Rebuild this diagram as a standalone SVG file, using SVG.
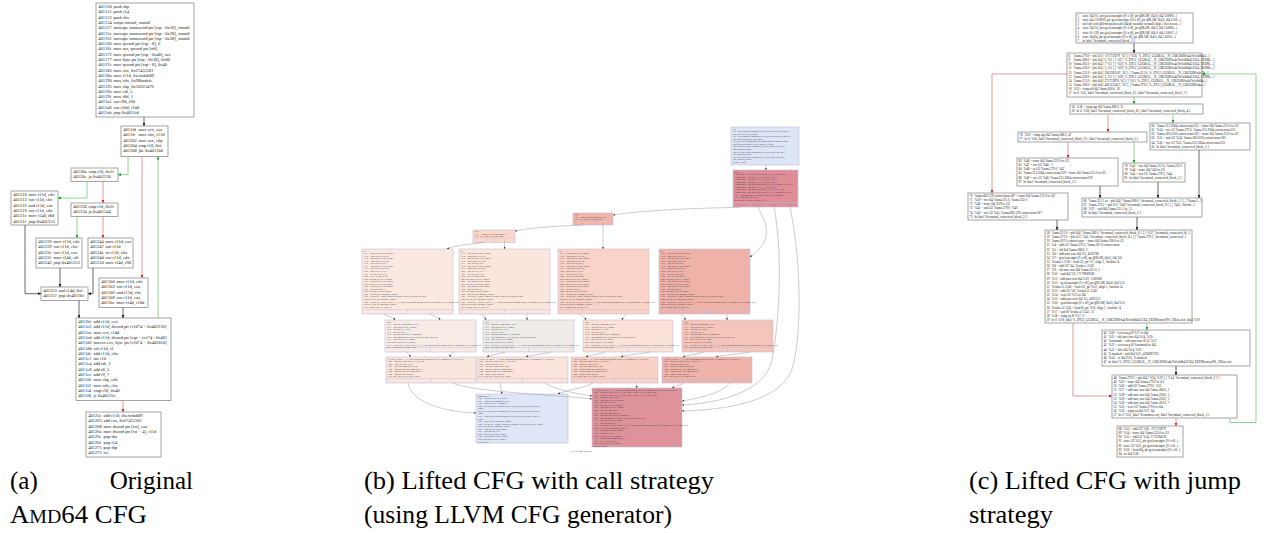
<svg xmlns="http://www.w3.org/2000/svg" width="1266" height="533" viewBox="0 0 1266 533">
<style>
.bx{fill:#fff;stroke:#8e8e8e;stroke-width:0.8}
.ta{font-family:"Liberation Serif",serif;font-size:4.5px;fill:#222}
.tc{font-family:"Liberation Serif",serif;font-size:3.2px;fill:#222}
.tb{font-family:"Liberation Serif",serif;font-size:2.2px;fill:#333}
.pb{stroke:#c3bdd8;stroke-width:0.6}
.pl{stroke:#c3bdd8;stroke-width:0.5;fill:none}
.cap{font-family:"Liberation Serif",serif;font-size:25px;fill:#000}
.ek{fill:none;stroke:#444;stroke-width:0.8}
.eg{fill:none;stroke:#8fd48f;stroke-width:1}
.er{fill:none;stroke:#e59a9a;stroke-width:1}
.eb{fill:none;stroke:#999;stroke-width:0.5}
</style>
<defs>
<marker id="mk" viewBox="0 0 10 10" refX="9" refY="5" markerWidth="3.4" markerHeight="3.4" markerUnits="userSpaceOnUse" orient="auto"><path d="M0,1 L10,5 L0,9z" fill="#222"/></marker>
<marker id="mg" viewBox="0 0 10 10" refX="9" refY="5" markerWidth="3.4" markerHeight="3.4" markerUnits="userSpaceOnUse" orient="auto"><path d="M0,1 L10,5 L0,9z" fill="#1c9e1c"/></marker>
<marker id="mr" viewBox="0 0 10 10" refX="9" refY="5" markerWidth="3.4" markerHeight="3.4" markerUnits="userSpaceOnUse" orient="auto"><path d="M0,1 L10,5 L0,9z" fill="#c8232c"/></marker>
<marker id="mb" viewBox="0 0 10 10" refX="9" refY="5" markerWidth="2.4" markerHeight="2.4" markerUnits="userSpaceOnUse" orient="auto"><path d="M0,1 L10,5 L0,9z" fill="#333"/></marker>

<!-- IR listings reused by the round blocks of the call-strategy CFG -->
<g id="txB"><text class="tb" x="1.5" y="2.6"><tspan x="1.5">b1:</tspan><tspan x="1.5" dy="2.55">  %13 = load i64, ptr %rdx, align 8</tspan><tspan x="1.5" dy="2.55">  %14 = trunc i64 %13 to i32</tspan><tspan x="1.5" dy="2.55">  %15 = load i64, ptr %rax, align 8</tspan><tspan x="1.5" dy="2.55">  %16 = trunc i64 %15 to i32</tspan><tspan x="1.5" dy="2.55">  %17 = xor i32 %14, %16</tspan><tspan x="1.5" dy="2.55">  %18 = load i64, ptr %rbx, align 8</tspan><tspan x="1.5" dy="2.55">  %19 = trunc i64 %18 to i32</tspan><tspan x="1.5" dy="2.55">  %20 = and i32 %17, %19</tspan><tspan x="1.5" dy="2.55">  %21 = xor i32 %20, %16</tspan><tspan x="1.5" dy="2.55">  %22 = zext i32 %21 to i64</tspan><tspan x="1.5" dy="2.55">  store i64 %22, ptr %r11, align 8</tspan><tspan x="1.5" dy="2.55">  %23 = load i64, ptr %r10, align 8</tspan><tspan x="1.5" dy="2.55">  store i64 %23, ptr %r14, align 8</tspan><tspan x="1.5" dy="2.55">  %24 = load i64, ptr %pc, align 8</tspan><tspan x="1.5" dy="2.55">  %25 = add i64 %24, 15</tspan><tspan x="1.5" dy="2.55">  store i64 %25, ptr %pc, align 8</tspan><tspan x="1.5" dy="2.55">  %26 = load ptr, ptr %memory, align 8</tspan><tspan x="1.5" dy="2.55">  %27 = call ptr @__remill_function_call(ptr %state, i64 %25, ptr %26)</tspan><tspan x="1.5" dy="2.55">  store ptr %27, ptr %memory, align 8</tspan><tspan x="1.5" dy="2.55">  %28 = call ptr @_ZN12_GLOBAL__N_13BCE6R0x4a7bf1a6db4315E4_EEEMemoryNS_1EEaa(ptr %27)</tspan><tspan x="1.5" dy="2.55">  store ptr %28, ptr %memory, align 8</tspan><tspan x="1.5" dy="2.55">  br i1 %cond, label %t, label %f</tspan></text></g>
<g id="txC"><text class="tb" x="1.5" y="2.6"><tspan x="1.5">%29:</tspan><tspan x="1.5" dy="2.55">  %30 = phi i64 [ %ama.268.0, %b1 ]</tspan><tspan x="1.5" dy="2.55">  %31 = load i64, ptr %r11, align 8</tspan><tspan x="1.5" dy="2.55">  %32 = add i64 %31, %ecx</tspan><tspan x="1.5" dy="2.55">  %33 = shl i64 %30, 2</tspan><tspan x="1.5" dy="2.55">  %34 = add nuw nsw i64 %33, 4202768</tspan><tspan x="1.5" dy="2.55">  %35 = getelementptr [0 x i8], ptr @RAM, i64 0, i64 %34</tspan><tspan x="1.5" dy="2.55">  %36 = load i32, ptr %35, align 1</tspan><tspan x="1.5" dy="2.55">  store i64 %32, ptr %r11, align 8</tspan><tspan x="1.5" dy="2.55">  %37 = call ptr @_ZN12_GLOBAL__N_13BCE6R0x4a7bf1a6db4315E4_EEEMemoryNS_1EEaa(ptr %s)</tspan><tspan x="1.5" dy="2.55">  br i1 %38, label %39, label %40</tspan></text></g>
<g id="txD"><text class="tb" x="1.5" y="2.6"><tspan x="1.5">_ZN12_GLOBAL__N_13BCE6R0x4a7bf1a6db4315E4_EEEMemoryNS_1EEaa.exit:</tspan><tspan x="1.5" dy="2.55">  %41 = phi i64 [ %24, %29 ], [ %14, %b1 ]</tspan><tspan x="1.5" dy="2.55">  %42 = trunc i64 %41 to i32</tspan><tspan x="1.5" dy="2.55">  %43 = add i32 %ama.279.0, %42</tspan><tspan x="1.5" dy="2.55">  %44 = add nuw nsw i64 %ama.268.0, 1</tspan><tspan x="1.5" dy="2.55">  %45 = add nuw nsw i64 %ama.228.0, 3</tspan><tspan x="1.5" dy="2.55">  %46 = icmp eq i64 %44, 64</tspan><tspan x="1.5" dy="2.55">  br i1 %46, label %exit, label %loop</tspan></text></g>
</defs>

<rect x="0" y="0" width="1266" height="533" fill="#fff"/>

<!-- ===== (a) original AMD64 CFG ===== -->
<g id="a-401150">
<rect class="bx" x="96" y="3" width="98" height="114"/>
<text class="ta"><tspan x="98.3" y="8">401150</tspan><tspan x="113.5">push rbp</tspan><tspan x="98.3" y="13.3">401151</tspan><tspan x="113.5">push r14</tspan><tspan x="98.3" y="18.6">401153</tspan><tspan x="113.5">push rbx</tspan><tspan x="98.3" y="23.9">401154</tspan><tspan x="113.5">xorps xmm0, xmm0</tspan><tspan x="98.3" y="29.2">401157</tspan><tspan x="113.5">movups xmmword ptr [rsp - 0x18], xmm0</tspan><tspan x="98.3" y="34.5">40115c</tspan><tspan x="113.5">movups xmmword ptr [rsp - 0x28], xmm0</tspan><tspan x="98.3" y="39.8">401161</tspan><tspan x="113.5">movups xmmword ptr [rsp - 0x38], xmm0</tspan><tspan x="98.3" y="45.1">401166</tspan><tspan x="113.5">mov qword ptr [rsp - 8], 0</tspan><tspan x="98.3" y="50.4">40116f</tspan><tspan x="113.5">mov rax, qword ptr [rdi]</tspan><tspan x="98.3" y="55.7">401172</tspan><tspan x="113.5">mov qword ptr [rsp - 0x40], rax</tspan><tspan x="98.3" y="61">401177</tspan><tspan x="113.5">mov byte ptr [rsp - 0x38], 0x80</tspan><tspan x="98.3" y="66.3">40117c</tspan><tspan x="113.5">mov qword ptr [rsp - 8], 0x40</tspan><tspan x="98.3" y="71.6">401185</tspan><tspan x="113.5">mov eax, 0x67452301</tspan><tspan x="98.3" y="76.9">40118a</tspan><tspan x="113.5">mov r11d, 0xefcdab89</tspan><tspan x="98.3" y="82.2">401190</tspan><tspan x="113.5">mov edx, 0x98badcfe</tspan><tspan x="98.3" y="87.5">401195</tspan><tspan x="113.5">mov ebp, 0x10325476</tspan><tspan x="98.3" y="92.8">40119a</tspan><tspan x="113.5">mov edi, 5</tspan><tspan x="98.3" y="98.1">40119f</tspan><tspan x="113.5">mov r8d, 1</tspan><tspan x="98.3" y="103.4">4011a5</tspan><tspan x="113.5">xor r9d, r9d</tspan><tspan x="98.3" y="108.7">4011a8</tspan><tspan x="113.5">xor r10d, r10d</tspan><tspan x="98.3" y="114">4011ab</tspan><tspan x="113.5">jmp 0x4011fd</tspan></text>
</g>
<g id="a-4011fd">
<rect class="bx" x="121" y="126" width="47" height="30.5"/>
<text class="ta"><tspan x="123.3" y="131">4011fd</tspan><tspan x="138.5">mov ecx, eax</tspan><tspan x="123.3" y="136.3">4011ff</tspan><tspan x="138.5">mov ebx, r11d</tspan><tspan x="123.3" y="141.6">401202</tspan><tspan x="138.5">mov eax, ebp</tspan><tspan x="123.3" y="146.9">401204</tspan><tspan x="138.5">cmp r10, 0xf</tspan><tspan x="123.3" y="152.2">401208</tspan><tspan x="138.5">jbe 0x4011b0</tspan></text>
</g>
<g id="a-40120a">
<rect class="bx" x="71" y="168" width="47" height="13.5"/>
<text class="ta"><tspan x="73.3" y="173">40120a</tspan><tspan x="88.5">cmp r10, 0x1f</tspan><tspan x="73.3" y="178.3">40120e</tspan><tspan x="88.5">ja 0x401230</tspan></text>
</g>
<g id="a-401230">
<rect class="bx" x="71" y="203" width="47" height="13.5"/>
<text class="ta"><tspan x="73.3" y="208">401230</tspan><tspan x="88.5">cmp r10, 0x2f</tspan><tspan x="73.3" y="213.3">401234</tspan><tspan x="88.5">ja 0x401244</tspan></text>
</g>
<g id="a-401210">
<rect class="bx" x="11" y="191" width="47" height="34"/>
<text class="ta"><tspan x="13.3" y="196">401210</tspan><tspan x="28.5">mov r11d, edx</tspan><tspan x="13.3" y="201.3">401213</tspan><tspan x="28.5">xor r11d, ebx</tspan><tspan x="13.3" y="206.6">401216</tspan><tspan x="28.5">and r11d, eax</tspan><tspan x="13.3" y="211.9">401219</tspan><tspan x="28.5">xor r11d, edx</tspan><tspan x="13.3" y="217.2">40121c</tspan><tspan x="28.5">mov r14d, r8d</tspan><tspan x="13.3" y="222.5">40121f</tspan><tspan x="28.5">jmp 0x401253</tspan></text>
</g>
<g id="a-401236">
<rect class="bx" x="36" y="238" width="46" height="30"/>
<text class="ta"><tspan x="38.3" y="243">401236</tspan><tspan x="53.5">mov r11d, edx</tspan><tspan x="38.3" y="248.3">401239</tspan><tspan x="53.5">xor r11d, ebx</tspan><tspan x="38.3" y="253.6">40123c</tspan><tspan x="53.5">xor r11d, eax</tspan><tspan x="38.3" y="258.9">40123f</tspan><tspan x="53.5">mov r14d, edi</tspan><tspan x="38.3" y="264.2">401242</tspan><tspan x="53.5">jmp 0x401253</tspan></text>
</g>
<g id="a-401244">
<rect class="bx" x="88" y="238" width="45" height="30"/>
<text class="ta"><tspan x="90.3" y="243">401244</tspan><tspan x="105.5">mov r11d, eax</tspan><tspan x="90.3" y="248.3">401247</tspan><tspan x="105.5">not r11d</tspan><tspan x="90.3" y="253.6">40124a</tspan><tspan x="105.5">or r11d, ebx</tspan><tspan x="90.3" y="258.9">40124d</tspan><tspan x="105.5">xor r11d, edx</tspan><tspan x="90.3" y="264.2">401250</tspan><tspan x="105.5">mov r14d, r9d</tspan></text>
</g>
<g id="a-401253">
<rect class="bx" x="41" y="287" width="47" height="13.5"/>
<text class="ta"><tspan x="43.3" y="292">401253</tspan><tspan x="58.5">and r14d, 0xf</tspan><tspan x="43.3" y="297.3">401257</tspan><tspan x="58.5">jmp 0x4011bf</tspan></text>
</g>
<g id="a-4011b0">
<rect class="bx" x="99" y="278" width="49" height="29.5"/>
<text class="ta"><tspan x="101.3" y="283">4011b0</tspan><tspan x="116.5">mov r11d, edx</tspan><tspan x="101.3" y="288.3">4011b3</tspan><tspan x="116.5">xor r11d, eax</tspan><tspan x="101.3" y="293.6">4011b6</tspan><tspan x="116.5">and r11d, ebx</tspan><tspan x="101.3" y="298.9">4011b9</tspan><tspan x="116.5">xor r11d, eax</tspan><tspan x="101.3" y="304.2">4011bc</tspan><tspan x="116.5">mov r14d, r10d</tspan></text>
</g>
<g id="a-4011bf">
<rect class="bx" x="76" y="318" width="95" height="82.5"/>
<text class="ta"><tspan x="78.3" y="323">4011bf</tspan><tspan x="93.5">add r11d, ecx</tspan><tspan x="78.3" y="328.3">4011c2</tspan><tspan x="93.5">add r11d, dword ptr [r10*4 + 0x402110]</tspan><tspan x="78.3" y="333.6">4011ca</tspan><tspan x="93.5">mov ecx, r14d</tspan><tspan x="78.3" y="338.9">4011cd</tspan><tspan x="93.5">add r11d, dword ptr [rsp + rcx*4 - 0x40]</tspan><tspan x="78.3" y="344.2">4011d2</tspan><tspan x="93.5">movzx ecx, byte ptr [r10*4 + 0x402010]</tspan><tspan x="78.3" y="349.5">4011db</tspan><tspan x="93.5">rol r11d, cl</tspan><tspan x="78.3" y="354.8">4011de</tspan><tspan x="93.5">add r11d, ebx</tspan><tspan x="78.3" y="360.1">4011e1</tspan><tspan x="93.5">inc r10</tspan><tspan x="78.3" y="365.4">4011e4</tspan><tspan x="93.5">add rdi, 3</tspan><tspan x="78.3" y="370.7">4011e8</tspan><tspan x="93.5">add r8, 5</tspan><tspan x="78.3" y="376">4011ec</tspan><tspan x="93.5">add r9, 7</tspan><tspan x="78.3" y="381.3">4011f0</tspan><tspan x="93.5">mov ebp, edx</tspan><tspan x="78.3" y="386.6">4011f2</tspan><tspan x="93.5">mov edx, ebx</tspan><tspan x="78.3" y="391.9">4011f4</tspan><tspan x="93.5">cmp r10, 0x40</tspan><tspan x="78.3" y="397.2">4011f8</tspan><tspan x="93.5">je 0x40125c</tspan></text>
</g>
<g id="a-40125c">
<rect class="bx" x="86" y="412" width="75" height="45"/>
<text class="ta"><tspan x="88.3" y="417">40125c</tspan><tspan x="103.5">add r11d, 0xefcdab89</tspan><tspan x="88.3" y="422.3">401263</tspan><tspan x="103.5">add eax, 0x67452301</tspan><tspan x="88.3" y="427.6">401268</tspan><tspan x="103.5">mov dword ptr [rsi], eax</tspan><tspan x="88.3" y="432.9">40126a</tspan><tspan x="103.5">mov dword ptr [rsi + 4], r11d</tspan><tspan x="88.3" y="438.2">40126e</tspan><tspan x="103.5">pop rbx</tspan><tspan x="88.3" y="443.5">40126f</tspan><tspan x="103.5">pop r14</tspan><tspan x="88.3" y="448.8">401271</tspan><tspan x="103.5">pop rbp</tspan><tspan x="88.3" y="454.1">401272</tspan><tspan x="103.5">ret</tspan></text>
</g>

<!-- ===== (b) call-strategy CFG ===== -->
<g id="b-entry">
<rect class="pb" x="731" y="127" width="68" height="38" fill="#dde5f7"/>
<text class="tb" x="732.5" y="129.6"><tspan x="732.5">%3:</tspan><tspan x="732.5" dy="2.55">  %4 = getelementptr inbounds [0 x i8], ptr @RAM, i64 0, i64 %1</tspan><tspan x="732.5" dy="2.55">  store i64 %0, ptr %4, align 1</tspan><tspan x="732.5" dy="2.55">  %5 = getelementptr inbounds [0 x i8], ptr @RAM, i64 0, i64 %2</tspan><tspan x="732.5" dy="2.55">  store i64 1500000, ptr %5, align 1</tspan><tspan x="732.5" dy="2.55">  tail call void @llvm.memset.p0.i64(ptr noundef nonnull align 1</tspan><tspan x="732.5" dy="2.55">    dereferenceable(64) %5, i8 0, i64 64, i1 false)</tspan><tspan x="732.5" dy="2.55">  store i64 %2, ptr getelementptr ([0 x i8], ptr @RAM, i64 0,</tspan><tspan x="732.5" dy="2.55">    i64 1500064), align 1</tspan><tspan x="732.5" dy="2.55">  store i8 -128, ptr getelementptr ([0 x i8], ptr @RAM, i64 0,</tspan><tspan x="732.5" dy="2.55">    i64 1500072), align 1</tspan><tspan x="732.5" dy="2.55">  store i64 64, ptr getelementptr ([0 x i8], ptr @RAM, i64 0,</tspan><tspan x="732.5" dy="2.55">    i64 1500120), align 1</tspan><tspan x="732.5" dy="2.55">  br label %loop</tspan></text>
</g>
<g id="b-loop">
<rect class="pb" x="733" y="170" width="65" height="37" fill="#df8e98"/>
<path class="pl" d="M733,202.5 H798 M750,202.5 V207 M767,202.5 V207 M782,202.5 V207"/>
<text class="tb" x="734.5" y="172.6"><tspan x="734.5">loop:</tspan><tspan x="734.5" dy="2.55">  %ama.279.0 = phi i32 [ -271733879, %3 ], [ %26, %exit ]</tspan><tspan x="734.5" dy="2.55">  %ama.268.0 = phi i64 [ 0, %3 ], [ %27, %exit ]</tspan><tspan x="734.5" dy="2.55">  %ama.262.0 = phi i64 [ 7, %3 ], [ %30, %exit ]</tspan><tspan x="734.5" dy="2.55">  %ama.258.0 = phi i64 [ 5, %3 ], [ %29, %exit ]</tspan><tspan x="734.5" dy="2.55">  %ama.252.0 = phi i64 [ 2562383102, %3 ], [ %ama.213.0, %exit ]</tspan><tspan x="734.5" dy="2.55">  %ama.228.0 = phi i64 [ 3, %3 ], [ %28, %exit ]</tspan><tspan x="734.5" dy="2.55">  %ama.213.0 = phi i64 [ 271733878, %3 ], [ %31, %exit ]</tspan><tspan x="734.5" dy="2.55">  %ama.198.0 = phi i64 [ 4023233417, %3 ], [ %ama.279.2, %exit ]</tspan><tspan x="734.5" dy="2.55">  %6 = call i64 @sub_4011fd(ptr %state, ptr %memory)</tspan><tspan x="734.5" dy="2.55">  %7 = trunc i64 %6 to i32</tspan><tspan x="734.5" dy="2.55">  switch i32 %7, label %default [ ... ]</tspan></text>
<text class="tb" text-anchor="middle"><tspan x="741.5" y="205.6">0</tspan><tspan x="758.5" y="205.6">1</tspan><tspan x="774.5" y="205.6">2</tspan><tspan x="790" y="205.6">3</tspan></text>
</g>
<g id="b-n8">
<rect class="pb" x="573" y="213" width="40" height="12" fill="#f3b6aa"/>
<path class="pl" d="M573,220.5 H613 M593,220.5 V225"/>
<text class="tb" x="574.5" y="215.3"><tspan x="574.5">%8:</tspan><tspan x="574.5" dy="2.3">  %9 = icmp ugt i64 %ama.268.0, 15</tspan><tspan x="574.5" dy="2.3">  br i1 %9, label %10, label %b1</tspan></text>
<text class="tb" text-anchor="middle"><tspan x="583" y="224.2">T</tspan><tspan x="603" y="224.2">F</tspan></text>
</g>
<g id="b-n10">
<rect class="pb" x="473" y="230" width="42" height="12.5" fill="#fcd8cb"/>
<path class="pl" d="M473,238 H515 M494,238 V242.5"/>
<text class="tb" x="474.5" y="232.3"><tspan x="474.5">%10:</tspan><tspan x="474.5" dy="2.3">  %11 = icmp ugt i64 %ama.268.0, 31</tspan><tspan x="474.5" dy="2.3">  br i1 %11, label %12, label %b2</tspan></text>
<text class="tb" text-anchor="middle"><tspan x="483.5" y="241.7">T</tspan><tspan x="504.5" y="241.7">F</tspan></text>
</g>
<g id="b-r4">
<rect class="pb" x="362" y="249" width="91" height="65" fill="#fbe9e1"/>
<path class="pl" d="M362,309.5 H453 M407.5,309.5 V314"/>
<use href="#txB" x="362" y="249"/>
</g>
<g id="b-r1">
<rect class="pb" x="459" y="249" width="91" height="65" fill="#fbe6dd"/>
<path class="pl" d="M459,309.5 H550 M504.5,309.5 V314"/>
<use href="#txB" x="459" y="249"/>
</g>
<g id="b-r2">
<rect class="pb" x="558" y="249" width="91" height="65" fill="#f9d3c7"/>
<path class="pl" d="M558,309.5 H649 M603.5,309.5 V314"/>
<use href="#txB" x="558" y="249"/>
</g>
<g id="b-r3">
<rect class="pb" x="659" y="249" width="91" height="65" fill="#eeb2a9"/>
<path class="pl" d="M659,309.5 H750 M704.5,309.5 V314"/>
<use href="#txB" x="659" y="249"/>
</g>
<g id="b-s0">
<rect class="pb" x="385" y="320" width="91" height="32" fill="#f7ebe6"/>
<path class="pl" d="M385,347.5 H476 M430.5,347.5 V352"/>
<use href="#txC" x="385" y="320"/>
</g>
<g id="b-s1">
<rect class="pb" x="483" y="320" width="91" height="32" fill="#efebe8"/>
<path class="pl" d="M483,347.5 H574 M528.5,347.5 V352"/>
<use href="#txC" x="483" y="320"/>
</g>
<g id="b-s2">
<rect class="pb" x="583" y="320" width="90" height="32" fill="#fbe2d8"/>
<path class="pl" d="M583,347.5 H673 M628,347.5 V352"/>
<use href="#txC" x="583" y="320"/>
</g>
<g id="b-s3">
<rect class="pb" x="682" y="320" width="91" height="32" fill="#f5c4ba"/>
<path class="pl" d="M682,347.5 H773 M727.5,347.5 V352"/>
<use href="#txC" x="682" y="320"/>
</g>
<g id="b-x0">
<rect class="pb" x="386" y="357" width="90" height="26" fill="#fbe6de"/>
<path class="pl" d="M386,378.5 H476 M431,378.5 V383"/>
<use href="#txD" x="386" y="357"/>
</g>
<g id="b-x1">
<rect class="pb" x="477" y="357" width="91" height="26" fill="#fbe4db"/>
<path class="pl" d="M477,378.5 H568 M522.5,378.5 V383"/>
<use href="#txD" x="477" y="357"/>
</g>
<g id="b-x2">
<rect class="pb" x="571" y="357" width="87" height="26" fill="#f9d1c5"/>
<path class="pl" d="M571,378.5 H658 M614.5,378.5 V383"/>
<use href="#txD" x="571" y="357"/>
</g>
<g id="b-x3">
<rect class="pb" x="662" y="357" width="90" height="26" fill="#efb3aa"/>
<path class="pl" d="M662,378.5 H752 M707,378.5 V383"/>
<use href="#txD" x="662" y="357"/>
</g>
<g id="b-ret">
<rect class="pb" x="476" y="394" width="92" height="49" fill="#dfe6f8"/>
<text class="tb" x="477.5" y="396.6"><tspan x="477.5">common.exit:</tspan><tspan x="477.5" dy="2.55">  %50 = add i32 %26, -271733879</tspan><tspan x="477.5" dy="2.55">  %51 = trunc i64 %ama.252.0 to i32</tspan><tspan x="477.5" dy="2.55">  %52 = add i32 %51, 1732584193</tspan><tspan x="477.5" dy="2.55">  store i32 %52, ptr getelementptr ([0 x i8], ptr @RAM, i64 0, i64 1500...</tspan><tspan x="477.5" dy="2.55">    align 1</tspan><tspan x="477.5" dy="2.55">  store i32 %50, ptr getelementptr ([0 x i8], ptr @RAM, i64 0, i64 1500...</tspan><tspan x="477.5" dy="2.55">    align 1</tspan><tspan x="477.5" dy="2.55">  %53 = load i64, ptr getelementptr ([0 x i8], ptr @RAM, i64 0, i64 15...</tspan><tspan x="477.5" dy="2.55">    align 1</tspan><tspan x="477.5" dy="2.55">  %54 = load ptr, ptr %memory, align 8</tspan><tspan x="477.5" dy="2.55">  %55 = call ptr @__remill_function_return(ptr %state, i64 %53, ptr %54)</tspan><tspan x="477.5" dy="2.55">  store ptr %55, ptr %memory, align 8</tspan><tspan x="477.5" dy="2.55">  %56 = load i64, ptr %rsp, align 8</tspan><tspan x="477.5" dy="2.55">  %57 = add i64 %56, 24</tspan><tspan x="477.5" dy="2.55">  store i64 %57, ptr %rsp, align 8</tspan><tspan x="477.5" dy="2.55">  %58 = load i64, ptr %rax, align 8</tspan><tspan x="477.5" dy="2.55">  store i64 %58, ptr %ret, align 8</tspan><tspan x="477.5" dy="2.55">  ret i64 %53</tspan></text>
</g>
<g id="b-exit">
<rect class="pb" x="592" y="388" width="90" height="59" fill="#de929b"/>
<text class="tb" x="593.5" y="390.6"><tspan x="593.5">_ZN12_GLOBAL__N_13BCE6R0x4a7bf1a6db4315E4_EEEMemoryNS_1EEaa.exit.loopexit:</tspan><tspan x="593.5" dy="2.55">  %60 = phi i64 [ %24, %b1 ], [ %34, %b2 ], [ %44, %b3 ], [ %54, %b4 ]</tspan><tspan x="593.5" dy="2.55">  %61 = phi ptr [ %28, %b1 ], [ %38, %b2 ], [ %48, %b3 ], [ %58, %b4 ]</tspan><tspan x="593.5" dy="2.55">  %62 = trunc i64 %60 to i32</tspan><tspan x="593.5" dy="2.55">  %63 = load i64, ptr %r14, align 8</tspan><tspan x="593.5" dy="2.55">  %64 = and i64 %63, 15</tspan><tspan x="593.5" dy="2.55">  store i64 %64, ptr %r14, align 8</tspan><tspan x="593.5" dy="2.55">  %65 = load i64, ptr %r11, align 8</tspan><tspan x="593.5" dy="2.55">  %66 = add i64 %65, %ecx</tspan><tspan x="593.5" dy="2.55">  %67 = shl i64 %ama.268.0, 2</tspan><tspan x="593.5" dy="2.55">  %68 = add nuw nsw i64 %67, 4202768</tspan><tspan x="593.5" dy="2.55">  %69 = getelementptr [0 x i8], ptr @RAM, i64 0, i64 %68</tspan><tspan x="593.5" dy="2.55">  %70 = load i32, ptr %69, align 1</tspan><tspan x="593.5" dy="2.55">  %71 = add i32 %62, %70</tspan><tspan x="593.5" dy="2.55">  %72 = call ptr @_ZN12_GLOBAL__N_13BCE6R0x4a7bf1a6db4315E4_EEEMemoryNS_1EEaa(ptr %s)</tspan><tspan x="593.5" dy="2.55">  store ptr %72, ptr %memory, align 8</tspan><tspan x="593.5" dy="2.55">  %73 = load i64, ptr %pc, align 8</tspan><tspan x="593.5" dy="2.55">  %74 = add i64 %73, 2</tspan><tspan x="593.5" dy="2.55">  store i64 %74, ptr %pc, align 8</tspan><tspan x="593.5" dy="2.55">  %75 = icmp eq i64 %ama.268.0, 63</tspan><tspan x="593.5" dy="2.55">  %76 = zext i1 %75 to i64</tspan><tspan x="593.5" dy="2.55">  store i64 %76, ptr %zf, align 8</tspan><tspan x="593.5" dy="2.55">  br label %loop</tspan></text>
</g>
<text class="tb" x="581" y="451.5" text-anchor="middle">CFG for 'md5' function</text>

<!-- ===== (c) jump-strategy CFG ===== -->
<g id="c-1">
<rect class="bx" x="1076" y="13" width="117" height="30"/>
<text class="tc"><tspan x="1077.5" y="16.9">1</tspan><tspan x="1082.5">store i64 %1, ptr getelementptr ([0 x i8], ptr @RAM, i64 0, i64 150000...)</tspan><tspan x="1077.5" y="21.05">2</tspan><tspan x="1082.5">store i64 1500000, ptr getelementptr ([0 x i8], ptr @RAM, i64 0, i64 1500...)</tspan><tspan x="1077.5" y="25.2">3</tspan><tspan x="1082.5">tail call void @llvm.memset.p0.i64(ptr noundef nonnull align 1 dereferenc...)</tspan><tspan x="1077.5" y="29.35">4</tspan><tspan x="1082.5">store i64 %2, ptr getelementptr ([0 x i8], ptr @RAM, i64 0, i64 150006...)</tspan><tspan x="1077.5" y="33.5">5</tspan><tspan x="1082.5">store i8 -128, ptr getelementptr ([0 x i8], ptr @RAM, i64 0, i64 150007...)</tspan><tspan x="1077.5" y="37.65">6</tspan><tspan x="1082.5">store i64 64, ptr getelementptr ([0 x i8], ptr @RAM, i64 0, i64 150012...)</tspan><tspan x="1077.5" y="41.8">7</tspan><tspan x="1082.5">br label %terminal_connected_block_1.1</tspan></text>
</g>
<g id="c-8">
<rect class="bx" x="1067" y="53" width="135" height="44"/>
<text class="tc"><tspan x="1068.5" y="56.9">8</tspan><tspan x="1073.5">%ama.279.0 = phi i32 [ -271733879, %2 ], [ %26, %_ZN12_GLOBAL__N_13BCE6R0x4a7bf1a6db43...]</tspan><tspan x="1068.5" y="61.05">9</tspan><tspan x="1073.5">%ama.268.0 = phi i64 [ 0, %2 ], [ %27, %_ZN12_GLOBAL__N_13BCE6R0x4a7bf1a6db4315E4_EEEMe...]</tspan><tspan x="1068.5" y="65.2">10</tspan><tspan x="1073.5">%ama.262.0 = phi i64 [ 7, %2 ], [ %30, %_ZN12_GLOBAL__N_13BCE6R0x4a7bf1a6db4315E4_EEEMe...]</tspan><tspan x="1068.5" y="69.35">11</tspan><tspan x="1073.5">%ama.258.0 = phi i64 [ 5, %2 ], [ %29, %_ZN12_GLOBAL__N_13BCE6R0x4a7bf1a6db4315E4_EEEMe...]</tspan><tspan x="1068.5" y="73.5">12</tspan><tspan x="1073.5">%ama.252.0 = phi i64 [ 2562383102, %2 ], [ %ama.213.0, %_ZN12_GLOBAL__N_13BCE6R0x4a7b...]</tspan><tspan x="1068.5" y="77.65">13</tspan><tspan x="1073.5">%ama.228.0 = phi i64 [ 3, %2 ], [ %28, %_ZN12_GLOBAL__N_13BCE6R0x4a7bf1a6db4315E4_EEEMe...]</tspan><tspan x="1068.5" y="81.8">14</tspan><tspan x="1073.5">%ama.213.0 = phi i64 [ 271733878, %2 ], [ %31, %_ZN12_GLOBAL__N_13BCE6R0x4a7bf1a6db4...]</tspan><tspan x="1068.5" y="85.95">15</tspan><tspan x="1073.5">%ama.198.0 = phi i64 [ 4023233417, %2 ], [ %ama.279.2, %_ZN12_GLOBAL__N_13BCE6R0x4a...]</tspan><tspan x="1068.5" y="90.1">16</tspan><tspan x="1073.5">%33 = icmp ult i64 %ama.268.0, 16</tspan><tspan x="1068.5" y="94.25">17</tspan><tspan x="1073.5">br i1 %33, label %terminal_connected_block_6.1, label %terminal_connected_block_7.1</tspan></text>
</g>
<g id="c-58">
<rect class="bx" x="1070" y="104" width="133" height="10"/>
<text class="tc"><tspan x="1071.5" y="107.9">58</tspan><tspan x="1076.5">%38 = icmp ugt i64 %ama.268.0, 31</tspan><tspan x="1071.5" y="112.05">59</tspan><tspan x="1076.5">br i1 %38, label %terminal_connected_block_8.1, label %terminal_connected_block_4.1</tspan></text>
</g>
<g id="c-60">
<rect class="bx" x="1150" y="123" width="100" height="27"/>
<text class="tc"><tspan x="1151.5" y="126.9">60</tspan><tspan x="1156.5">%ama.213.2064.extract.trunc231 = trunc i64 %ama.213.0 to i32</tspan><tspan x="1151.5" y="131.05">61</tspan><tspan x="1156.5">%34 = xor i32 %ama.279.0, %ama.213.2064.extract.trunc231</tspan><tspan x="1151.5" y="135.2">62</tspan><tspan x="1156.5">%ama.180.2250.extract.trunc185 = trunc i64 %ama.252.0 to i32</tspan><tspan x="1151.5" y="139.35">63</tspan><tspan x="1156.5">%35 = and i32 %34, %ama.180.2250.extract.trunc185</tspan><tspan x="1151.5" y="143.5">64</tspan><tspan x="1156.5">%36 = xor i32 %35, %ama.213.2064.extract.trunc231</tspan><tspan x="1151.5" y="147.65">65</tspan><tspan x="1156.5">br label %terminal_connected_block_3.1</tspan></text>
</g>
<g id="c-76">
<rect class="bx" x="1018" y="132" width="129" height="10"/>
<text class="tc"><tspan x="1019.5" y="135.9">76</tspan><tspan x="1024.5">%50 = icmp ugt i64 %ama.268.0, 47</tspan><tspan x="1019.5" y="140.05">77</tspan><tspan x="1024.5">br i1 %50, label %terminal_connected_block_9.1, label %terminal_connected_block_5.1</tspan></text>
</g>
<g id="c-82">
<rect class="bx" x="1017" y="158" width="101" height="28"/>
<text class="tc"><tspan x="1018.5" y="161.9">82</tspan><tspan x="1023.5">%46 = trunc i64 %ama.252.0 to i32</tspan><tspan x="1018.5" y="166.05">83</tspan><tspan x="1023.5">%47 = xor i32 %46, -1</tspan><tspan x="1018.5" y="170.2">84</tspan><tspan x="1023.5">%48 = or i32 %ama.279.0, %47</tspan><tspan x="1018.5" y="174.35">85</tspan><tspan x="1023.5">%ama.213.2064.extract.trunc239 = trunc i64 %ama.213.0 to i32</tspan><tspan x="1018.5" y="178.5">86</tspan><tspan x="1023.5">%49 = xor i32 %48, %ama.213.2064.extract.trunc239</tspan><tspan x="1018.5" y="182.65">87</tspan><tspan x="1023.5">br label %terminal_connected_block_3.1</tspan></text>
</g>
<g id="c-78">
<rect class="bx" x="1123" y="163" width="62" height="19"/>
<text class="tc"><tspan x="1124.5" y="166.9">78</tspan><tspan x="1129.5">%43 = xor i64 %ama.213.0, %ama.252.0</tspan><tspan x="1124.5" y="171.05">79</tspan><tspan x="1129.5">%44 = trunc i64 %43 to i32</tspan><tspan x="1124.5" y="175.2">80</tspan><tspan x="1129.5">%45 = xor i32 %ama.279.0, %44</tspan><tspan x="1124.5" y="179.35">81</tspan><tspan x="1129.5">br label %terminal_connected_block_3.1</tspan></text>
</g>
<g id="c-66">
<rect class="bx" x="1082" y="198" width="120" height="19"/>
<text class="tc"><tspan x="1083.5" y="201.9">66</tspan><tspan x="1088.5">%ama.321.1.in = phi i64 [ %ama.268.0, %terminal_connected_block_5.1 ], [ %ama.2...]</tspan><tspan x="1083.5" y="206.05">67</tspan><tspan x="1088.5">%ama.279.1 = phi i32 [ %49, %terminal_connected_block_9.1 ], [ %45, %termi...]</tspan><tspan x="1083.5" y="210.2">68</tspan><tspan x="1088.5">%37 = and i64 %ama.321.1.in, 15</tspan><tspan x="1083.5" y="214.35">69</tspan><tspan x="1088.5">br label %terminal_connected_block_2.1</tspan></text>
</g>
<g id="c-70">
<rect class="bx" x="968" y="193" width="100" height="27"/>
<text class="tc"><tspan x="969.5" y="196.9">70</tspan><tspan x="974.5">%ama.685.239.extract.trunc187 = trunc i64 %ama.252.0 to i32</tspan><tspan x="969.5" y="201.05">71</tspan><tspan x="974.5">%39 = xor i64 %ama.213.0, %ama.252.0</tspan><tspan x="969.5" y="205.2">72</tspan><tspan x="974.5">%40 = trunc i64 %39 to i32</tspan><tspan x="969.5" y="209.35">73</tspan><tspan x="974.5">%41 = and i32 %ama.279.0, %40</tspan><tspan x="969.5" y="213.5">74</tspan><tspan x="974.5">%42 = xor i32 %41, %ama.685.239.extract.trunc187</tspan><tspan x="969.5" y="217.65">75</tspan><tspan x="974.5">br label %terminal_connected_block_2.1</tspan></text>
</g>
<g id="c-18">
<rect class="bx" x="1045" y="230" width="147" height="93"/>
<text class="tc"><tspan x="1046.5" y="233.9">18</tspan><tspan x="1051.5">%ama.321.0 = phi i64 [ %ama.268.0, %terminal_connected_block_6.1 ], [ %37, %terminal_connected_bl...]</tspan><tspan x="1046.5" y="238.05">19</tspan><tspan x="1051.5">%ama.279.3 = phi i32 [ %42, %terminal_connected_block_6.1 ], [ %ama.279.1, %terminal_connected...]</tspan><tspan x="1046.5" y="242.2">20</tspan><tspan x="1051.5">%ama.207.0.extract.trunc = trunc i64 %ama.198.0 to i32</tspan><tspan x="1046.5" y="246.35">21</tspan><tspan x="1051.5">%4 = add i32 %ama.279.3, %ama.207.0.extract.trunc</tspan><tspan x="1046.5" y="250.5">22</tspan><tspan x="1051.5">%5 = shl i64 %ama.268.0, 2</tspan><tspan x="1046.5" y="254.65">23</tspan><tspan x="1051.5">%6 = add nuw nsw i64 %5, 4202768</tspan><tspan x="1046.5" y="258.8">24</tspan><tspan x="1051.5">%7 = getelementptr [0 x i8], ptr @RAM, i64 0, i64 %6</tspan><tspan x="1046.5" y="262.95">25</tspan><tspan x="1051.5">%value.i.1138 = load i32, ptr %7, align 1, !noalias !4</tspan><tspan x="1046.5" y="267.1">26</tspan><tspan x="1051.5">%8 = add i32 %4, %value.i.1138</tspan><tspan x="1046.5" y="271.25">27</tspan><tspan x="1051.5">%9 = shl nuw nsw i64 %ama.321.0, 2</tspan><tspan x="1046.5" y="275.4">28</tspan><tspan x="1051.5">%10 = and i64 %9, 17179869180</tspan><tspan x="1046.5" y="279.55">29</tspan><tspan x="1051.5">%11 = add nuw nsw i64 %10, 1500008</tspan><tspan x="1046.5" y="283.7">30</tspan><tspan x="1051.5">%12 = getelementptr [0 x i8], ptr @RAM, i64 0, i64 %11</tspan><tspan x="1046.5" y="287.85">31</tspan><tspan x="1051.5">%value.i1.1140 = load i32, ptr %12, align 1, !noalias !4</tspan><tspan x="1046.5" y="292">32</tspan><tspan x="1051.5">%13 = add i32 %8, %value.i1.1140</tspan><tspan x="1046.5" y="296.15">33</tspan><tspan x="1051.5">%14 = zext i32 %13 to i64</tspan><tspan x="1046.5" y="300.3">34</tspan><tspan x="1051.5">%15 = add nuw nsw i64 %5, 4202512</tspan><tspan x="1046.5" y="304.45">35</tspan><tspan x="1051.5">%16 = getelementptr [0 x i8], ptr @RAM, i64 0, i64 %15</tspan><tspan x="1046.5" y="308.6">36</tspan><tspan x="1051.5">%value.i2.1141 = load i8, ptr %16, align 1, !noalias !4</tspan><tspan x="1046.5" y="312.75">37</tspan><tspan x="1051.5">%17 = and i8 %value.i2.1141, 31</tspan><tspan x="1046.5" y="316.9">38</tspan><tspan x="1051.5">%18 = icmp eq i8 %17, 0</tspan><tspan x="1046.5" y="321.05">39</tspan><tspan x="1051.5">br i1 %18, label %_ZN12_GLOBAL__N_13BCE6R0x4a7bf1a6db4315E4_EEEMemoryNS_1EEaa.exit, label %19</tspan></text>
</g>
<g id="c-40">
<rect class="bx" x="1102" y="330" width="148" height="36"/>
<text class="tc"><tspan x="1103.5" y="333.9">40</tspan><tspan x="1108.5">%20 = zext nneg i8 %17 to i64</tspan><tspan x="1103.5" y="338.05">41</tspan><tspan x="1108.5">%21 = shl nuw nsw i64 %14, %20</tspan><tspan x="1103.5" y="342.2">42</tspan><tspan x="1108.5">%notmask = sub nuw nsw i8 32, %17</tspan><tspan x="1103.5" y="346.35">43</tspan><tspan x="1108.5">%22 = zext nneg i8 %notmask to i64</tspan><tspan x="1103.5" y="350.5">44</tspan><tspan x="1108.5">%23 = lshr i64 %14, %22</tspan><tspan x="1103.5" y="354.65">45</tspan><tspan x="1108.5">%.masked = and i64 %21, 4294967295</tspan><tspan x="1103.5" y="358.8">46</tspan><tspan x="1108.5">%24 = or i64 %23, %.masked</tspan><tspan x="1103.5" y="362.95">47</tspan><tspan x="1108.5">br label %_ZN12_GLOBAL__N_13BCE6R0x4a7bf1a6db4315E4_EEEMemoryNS_1EEaa.exit</tspan></text>
</g>
<g id="c-48">
<rect class="bx" x="1112" y="375" width="125" height="43"/>
<text class="tc"><tspan x="1113.5" y="378.9">48</tspan><tspan x="1118.5">%ama.279.2 = phi i64 [ %24, %19 ], [ %14, %terminal_connected_block_2.1 ]</tspan><tspan x="1113.5" y="383.05">49</tspan><tspan x="1118.5">%25 = trunc i64 %ama.279.2 to i32</tspan><tspan x="1113.5" y="387.2">50</tspan><tspan x="1118.5">%26 = add i32 %ama.279.0, %25</tspan><tspan x="1113.5" y="391.35">51</tspan><tspan x="1118.5">%27 = add nuw nsw i64 %ama.268.0, 1</tspan><tspan x="1113.5" y="395.5">52</tspan><tspan x="1118.5">%28 = add nuw nsw i64 %ama.228.0, 3</tspan><tspan x="1113.5" y="399.65">53</tspan><tspan x="1118.5">%29 = add nuw nsw i64 %ama.258.0, 5</tspan><tspan x="1113.5" y="403.8">54</tspan><tspan x="1118.5">%30 = add nuw nsw i64 %ama.262.0, 7</tspan><tspan x="1113.5" y="407.95">55</tspan><tspan x="1118.5">%31 = zext i32 %ama.279.0 to i64</tspan><tspan x="1113.5" y="412.1">56</tspan><tspan x="1118.5">%32 = icmp eq i64 %27, 64</tspan><tspan x="1113.5" y="416.25">57</tspan><tspan x="1118.5">br i1 %32, label %common.exit, label %terminal_connected_block_1.1</tspan></text>
</g>
<g id="c-88">
<rect class="bx" x="1117" y="426" width="66" height="31"/>
<text class="tc"><tspan x="1118.5" y="429.9">88</tspan><tspan x="1123.5">%53 = add i32 %26, -271733879</tspan><tspan x="1118.5" y="434.05">89</tspan><tspan x="1123.5">%54 = trunc i64 %ama.252.0 to i32</tspan><tspan x="1118.5" y="438.2">90</tspan><tspan x="1123.5">%55 = add i32 %54, 1732584193</tspan><tspan x="1118.5" y="442.35">91</tspan><tspan x="1123.5">store i32 %55, ptr getelementptr ([0 x i8...)</tspan><tspan x="1118.5" y="446.5">92</tspan><tspan x="1123.5">store i32 %53, ptr getelementptr ([0 x i8...)</tspan><tspan x="1118.5" y="450.65">93</tspan><tspan x="1123.5">%56 = load i64, ptr getelementptr ([0 x i8...)</tspan><tspan x="1118.5" y="454.8">94</tspan><tspan x="1123.5">ret i64 %56</tspan></text>
</g>

<!-- ===== connectors ===== -->
<g id="connectors">
<!-- (a) -->
<path class="ek" d="M144,117 V126" marker-end="url(#mk)"/>
<path class="eg" d="M128,156.5 V174.7 H118" marker-end="url(#mg)"/>
<path class="er" d="M142,156.5 V278" marker-end="url(#mr)"/>
<path class="eg" d="M158,318 V156.5" marker-end="url(#mg)"/>
<path class="eg" d="M87,181.5 V198 H58" marker-end="url(#mg)"/>
<path class="er" d="M103,181.5 V203" marker-end="url(#mr)"/>
<path class="eg" d="M77,216.5 V238" marker-end="url(#mg)"/>
<path class="er" d="M103,216.5 V238" marker-end="url(#mr)"/>
<path class="ek" d="M25,225 V293.7 H41" marker-end="url(#mk)"/>
<path class="ek" d="M60,268 V287" marker-end="url(#mk)"/>
<path class="ek" d="M93,268 V293.7 H88" marker-end="url(#mk)"/>
<path class="ek" d="M79,300.5 V318" marker-end="url(#mk)"/>
<path class="ek" d="M123,307.5 V318" marker-end="url(#mk)"/>
<path class="er" d="M123,400.5 V412" marker-end="url(#mr)"/>
<!-- (b) -->
<path class="eb" d="M766,165 V170" marker-end="url(#mb)"/>
<path class="eb" d="M741,207 C730,208 660,208 613,215" marker-end="url(#mb)"/>
<path class="eb" d="M758,207 C765,222 776,238 750,257" marker-end="url(#mb)"/>
<path class="eb" d="M774,207 C784,260 778,330 772,360 C765,392 720,403 682,405" marker-end="url(#mb)"/>
<path class="eb" d="M790,207 C803,270 801,345 791,372 C777,402 725,410 682,411" marker-end="url(#mb)"/>
<path class="eb" d="M583,225 C560,226 535,227 515,231" marker-end="url(#mb)"/>
<path class="eb" d="M603,225 V249" marker-end="url(#mb)"/>
<path class="eb" d="M483.5,242.5 C472,244 456,245 447,249" marker-end="url(#mb)"/>
<path class="eb" d="M504.5,242.5 V249" marker-end="url(#mb)"/>
<path class="eb" d="M384,314 C386,316 393,317 395,320" marker-end="url(#mb)"/>
<path class="eb" d="M430,314 C433,316 439,317 440,320" marker-end="url(#mb)"/>
<path class="eb" d="M482,314 C483,316 485,317 486,320" marker-end="url(#mb)"/>
<path class="eb" d="M527,314 V320" marker-end="url(#mb)"/>
<path class="eb" d="M580,314 C582,316 585,317 586,320" marker-end="url(#mb)"/>
<path class="eb" d="M626,314 C625,316 623,317 622,320" marker-end="url(#mb)"/>
<path class="eb" d="M681,314 C683,316 685,317 685,320" marker-end="url(#mb)"/>
<path class="eb" d="M727,314 V320" marker-end="url(#mb)"/>
<path class="eb" d="M407,352 C408,354 410,355 410,357" marker-end="url(#mb)"/>
<path class="eb" d="M453,352 C452,354 450,355 450,357" marker-end="url(#mb)"/>
<path class="eb" d="M505,352 C500,354 490,355 487,357" marker-end="url(#mb)"/>
<path class="eb" d="M551,352 C545,354 530,355 526,357" marker-end="url(#mb)"/>
<path class="eb" d="M605,352 C600,354 590,355 586,357" marker-end="url(#mb)"/>
<path class="eb" d="M650,352 C640,354 625,355 621,357" marker-end="url(#mb)"/>
<path class="eb" d="M704,352 C698,354 688,355 683,357" marker-end="url(#mb)"/>
<path class="eb" d="M750,352 C740,354 722,355 716,357" marker-end="url(#mb)"/>
<path class="eb" d="M408,383 C410,400 440,412 476,413" marker-end="url(#mb)"/>
<path class="eb" d="M453,383 C470,392 560,395 592,399" marker-end="url(#mb)"/>
<path class="eb" d="M500,383 L502,394" marker-end="url(#mb)"/>
<path class="eb" d="M545,383 C555,390 575,393 592,396" marker-end="url(#mb)"/>
<path class="eb" d="M593,383 C585,388 566,390 558,394" marker-end="url(#mb)"/>
<path class="eb" d="M636,383 L637,388" marker-end="url(#mb)"/>
<path class="eb" d="M684,383 L672,388" marker-end="url(#mb)"/>
<path class="eb" d="M729,383 C725,392 700,398 682,401" marker-end="url(#mb)"/>
<!-- (c) -->
<path class="ek" d="M1134,43 V53" marker-end="url(#mk)"/>
<path class="eg" d="M1134,97 V104" marker-end="url(#mg)"/>
<path class="er" d="M1067,74 H992 V193" marker-end="url(#mr)"/>
<path class="eg" d="M1230,418 V422.5 H1256 V74 H1202" marker-end="url(#mg)"/>
<path class="er" d="M1108,114 V132" marker-end="url(#mr)"/>
<path class="eg" d="M1173,114 V123" marker-end="url(#mg)"/>
<path class="er" d="M1068,142 V158" marker-end="url(#mr)"/>
<path class="eg" d="M1134,142 V163" marker-end="url(#mg)"/>
<path class="ek" d="M1199,150 V198" marker-end="url(#mk)"/>
<path class="ek" d="M1158,182 V198" marker-end="url(#mk)"/>
<path class="ek" d="M1100,186 V198" marker-end="url(#mk)"/>
<path class="ek" d="M1057,220 V230" marker-end="url(#mk)"/>
<path class="ek" d="M1137,217 V230" marker-end="url(#mk)"/>
<path class="eg" d="M1147,323 V330" marker-end="url(#mg)"/>
<path class="er" d="M1073,323 V396 H1112" marker-end="url(#mr)"/>
<path class="ek" d="M1176,366 V375" marker-end="url(#mk)"/>
<path class="er" d="M1176,418 V426" marker-end="url(#mr)"/>
</g>

<!-- ===== captions (sub-figure captions sit flush with each graph's left edge) ===== -->
<g id="captions">
<text class="cap" x="10" y="489">(a)</text>
<text class="cap" x="193" y="489" text-anchor="end">Original</text>
<text class="cap" x="10" y="523" textLength="137" lengthAdjust="spacingAndGlyphs">A<tspan font-size="18.5">MD</tspan>64 CFG</text>
<text class="cap" x="364" y="489" textLength="350" lengthAdjust="spacingAndGlyphs">(b) Lifted CFG with call strategy</text>
<text class="cap" x="364" y="523" textLength="308" lengthAdjust="spacingAndGlyphs">(using LLVM CFG generator)</text>
<text class="cap" x="969" y="489" textLength="272" lengthAdjust="spacingAndGlyphs">(c) Lifted CFG with jump</text>
<text class="cap" x="969" y="523" textLength="84" lengthAdjust="spacingAndGlyphs">strategy</text>
</g>
</svg>
